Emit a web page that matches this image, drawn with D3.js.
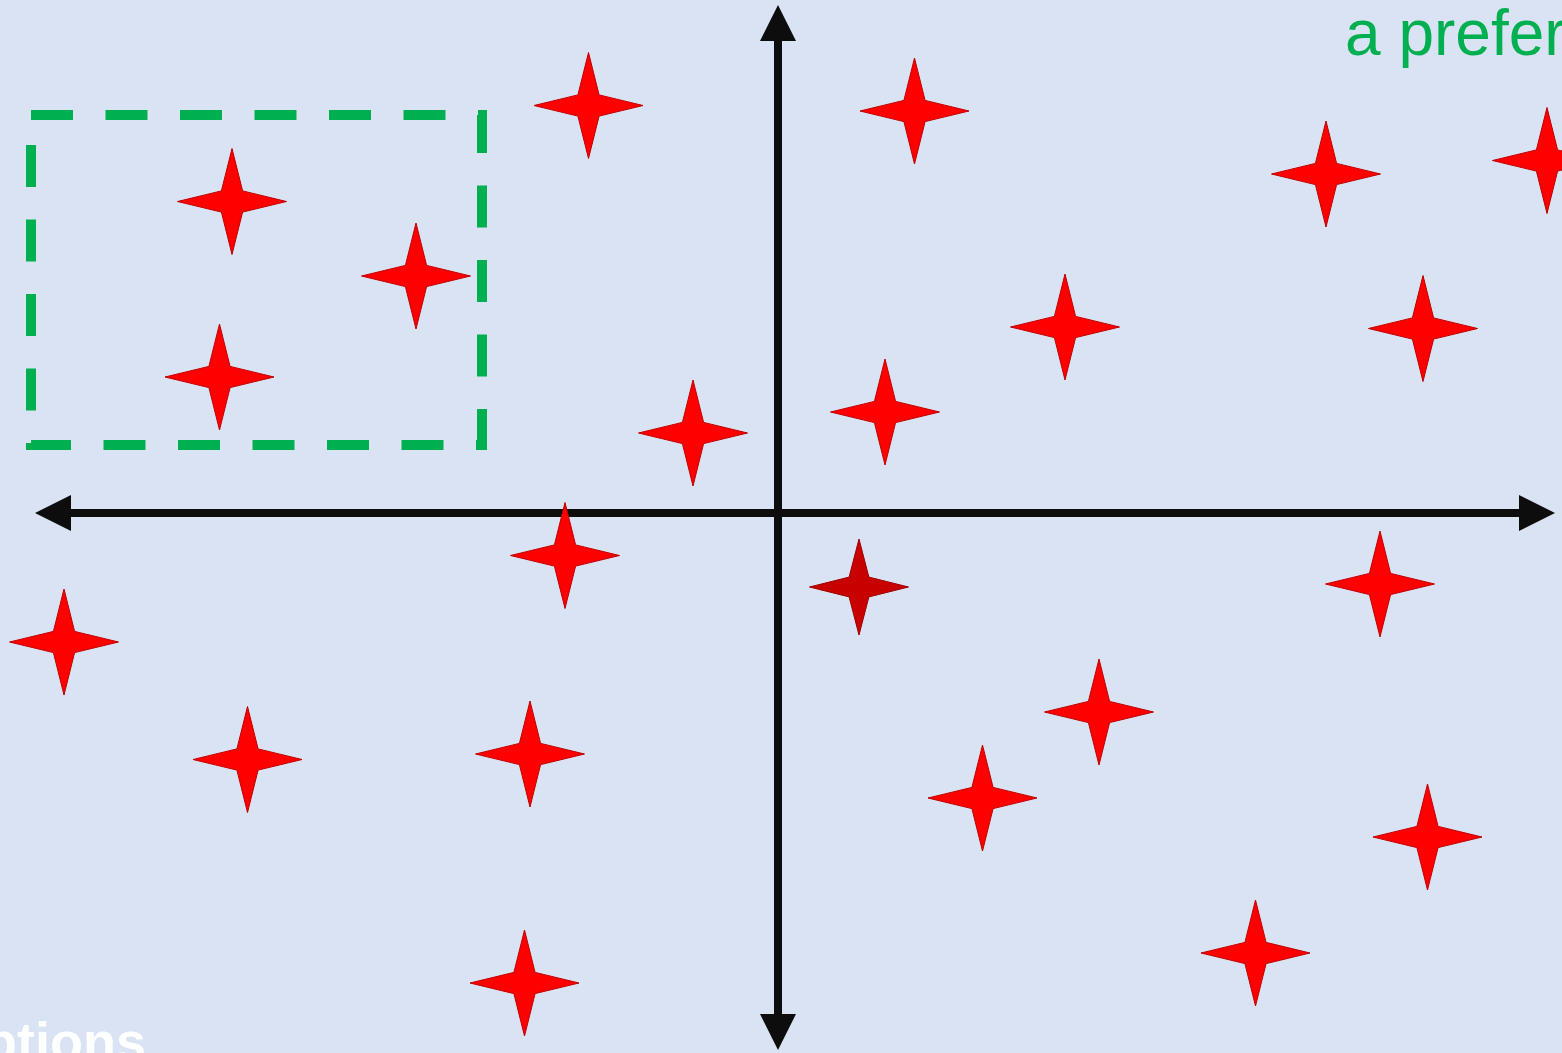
<!DOCTYPE html>
<html>
<head>
<meta charset="utf-8">
<script src="https://cdn.jsdelivr.net/npm/d3@7"></script>
<style>
  html, body { margin: 0; padding: 0; background: #dae3f3; overflow: hidden; }
  svg { display: block; }
</style>
</head>
<body>
<div id="chart"></div>
<script>
const width = 1562;
const height = 1053;

// axis extents (arrow tips), in chart units (origin where the arrows cross)
const xExtent = [-7.43, 7.77];
const yExtent = [-5.37, 5.08];

// star positions
const starX = [-1.895, 1.365, -5.46, -3.62, -5.585, 5.48, 7.69, 2.87, 6.45, 1.07, -0.85, -2.13, 0.81, 6.02, -7.14, -5.305, -2.48, 3.21, 2.045, 6.495, 4.775, -2.535];
const starY = [4.075, 4.02, 3.115, 2.37, 1.36, 3.39, 3.525, 1.86, 1.845, 1.01, 0.80, -0.425, -0.74, -0.71, -1.29, -2.465, -2.41, -1.99, -2.85, -3.24, -4.40, -4.70];
const starSelected = [0, 0, 0, 0, 0, 0, 0, 0, 0, 0, 0, 0, 1, 0, 0, 0, 0, 0, 0, 0, 0, 0];

// the dashed selection box: [x0, x1], [y0, y1]
const boxX = [-7.47, -2.96];
const boxY = [0.68, 3.98];

const topLabel = "a preference";
const bottomLabel = "options";

const head = 36; // arrowhead length, px

const x = d3.scaleLinear().domain([0, 1]).range([778, 878]);
const y = d3.scaleLinear().domain([0, 1]).range([513, 413]);

const svg = d3.select("#chart").append("svg")
    .attr("width", width)
    .attr("height", height);

svg.append("rect")
    .attr("width", width)
    .attr("height", height)
    .attr("fill", "#dae3f3");

// arrowheads sit past the line ends
svg.append("defs").append("marker")
    .attr("id", "arrow")
    .attr("viewBox", `0 0 ${head} 36`)
    .attr("refX", 0)
    .attr("refY", 18)
    .attr("markerWidth", head)
    .attr("markerHeight", 36)
    .attr("markerUnits", "userSpaceOnUse")
    .attr("orient", "auto-start-reverse")
    .append("path")
    .attr("d", `M0,0L${head},18L0,36Z`)
    .attr("fill", "#0d0d0d");

const axes = svg.append("g").attr("class", "axes");
axes.append("line")
    .attr("x1", x(xExtent[0]) + head).attr("x2", x(xExtent[1]) - head)
    .attr("y1", y(0)).attr("y2", y(0));
axes.append("line")
    .attr("x1", x(0)).attr("x2", x(0))
    .attr("y1", y(yExtent[1]) + head).attr("y2", y(yExtent[0]) - head);
axes.selectAll("line")
    .attr("stroke", "#0d0d0d")
    .attr("stroke-width", 8)
    .attr("marker-start", "url(#arrow)")
    .attr("marker-end", "url(#arrow)");

// dashed box
svg.append("rect")
    .attr("x", x(boxX[0]))
    .attr("y", y(boxY[1]))
    .attr("width", x(boxX[1]) - x(boxX[0]))
    .attr("height", y(boxY[0]) - y(boxY[1]))
    .attr("fill", "none")
    .attr("stroke", "#00b050")
    .attr("stroke-width", 10)
    .attr("stroke-dasharray", "42 32.5");

// four-point star outline
function starPath(rx, ry, inner) {
    const pts = [];
    for (let i = 0; i < 8; i++) {
        const a = -Math.PI / 2 + i * Math.PI / 4;
        if (i % 2 === 0) pts.push([Math.cos(a) * rx, Math.sin(a) * ry]);
        else pts.push([Math.cos(a) * inner, Math.sin(a) * inner]);
    }
    return d3.line().curve(d3.curveLinearClosed)(pts);
}

const stars = starX.map((d, i) => ({x: d, y: starY[i], sel: starSelected[i]}));

svg.append("g").selectAll("path")
    .data(stars)
    .join("path")
    .attr("transform", d => `translate(${x(d.x)},${y(d.y)})`)
    .attr("d", d => d.sel ? starPath(49.5, 48, 14) : starPath(54.5, 53, 15))
    .attr("fill", d => d.sel ? "#c80000" : "#ff0000")
    .attr("stroke", d => d.sel ? "#a00000" : "#c00000")
    .attr("stroke-width", 1);

svg.append("text")
    .attr("x", 1345)
    .attr("y", 55)
    .attr("font-family", "Liberation Sans, Arial, sans-serif")
    .attr("font-size", 64)
    .attr("fill", "#00b050")
    .text(topLabel);

svg.append("text")
    .attr("x", 146)
    .attr("y", 1060)
    .attr("text-anchor", "end")
    .attr("font-family", "Liberation Sans, Arial, sans-serif")
    .attr("font-weight", "bold")
    .attr("font-size", 54)
    .attr("fill", "#ffffff")
    .text(bottomLabel);
</script>
</body>
</html>
